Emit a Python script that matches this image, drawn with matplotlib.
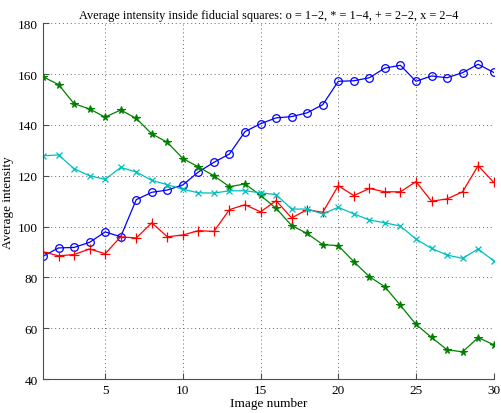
import numpy as np
import matplotlib
matplotlib.use("Agg")
import matplotlib.pyplot as plt

plt.rcParams['font.family'] = ['Liberation Serif', 'DejaVu Serif']

# image index 1..30
images = np.arange(1, 31)

# o = 1-2
s12 = [88.3, 91.6, 91.8, 93.8, 97.9, 96.0, 110.6, 113.5, 114.4, 116.4,
       121.5, 125.3, 128.6, 137.4, 140.5, 142.8, 143.3, 144.8, 148.0, 157.2,
       157.4, 158.6, 162.4, 163.5, 157.2, 159.3, 158.6, 160.6, 163.9, 160.7]
# * = 1-4
s14 = [159.0, 155.9, 148.4, 146.3, 143.1, 145.9, 142.6, 136.5, 133.2, 126.8,
       123.5, 120.0, 115.7, 116.8, 112.3, 107.2, 100.4, 97.3, 92.9, 92.5,
       86.2, 80.3, 76.3, 69.0, 61.5, 56.4, 51.5, 50.7, 56.3, 53.5]
# + = 2-2
s22 = [90.1, 88.5, 89.0, 91.2, 89.3, 96.0, 95.5, 101.5, 96.0, 96.7,
       98.4, 98.1, 106.7, 108.6, 105.8, 110.2, 103.4, 106.7, 105.6, 116.1,
       112.2, 115.0, 113.7, 113.7, 117.7, 110.0, 110.9, 113.7, 124.0, 117.4]
# x = 2-4
s24 = [127.9, 128.2, 122.8, 120.0, 118.6, 123.3, 121.5, 118.2, 116.5, 114.7,
       113.3, 113.2, 114.1, 114.1, 113.3, 112.6, 106.9, 106.9, 105.0, 107.6,
       105.0, 102.6, 101.5, 100.2, 95.1, 91.4, 88.8, 87.5, 91.2, 86.5]

fig = plt.figure(figsize=(5.01, 4.14), dpi=100)
ax = fig.add_axes([0.0858, 0.0821, 0.8996, 0.859])

lw = 0.9
ax.plot(images, s12, '-o', color=(0, 0, 1), lw=lw, ms=5.5, mfc='none', mew=0.9)
ax.plot(images, s14, '-*', color=(0, 0.5, 0), lw=lw, ms=5.5, mew=0.8)
ax.plot(images, s22, '-+', color=(1, 0, 0), lw=lw, ms=6.5, mew=0.9)
ax.plot(images, s24, '-x', color=(0, 0.75, 0.75), lw=lw, ms=4.5, mew=0.9)

ax.set_xlim(1, 30)
ax.set_ylim(40, 180)
ax.set_xticks([5, 10, 15, 20, 25, 30])
ax.set_yticks(np.arange(40, 181, 20))
ax.grid(True, linestyle=(0, (1, 3)), color='0.4', lw=0.7)
ax.spines['top'].set_visible(False)
ax.spines['right'].set_visible(False)
ax.spines['left'].set_color('0.3')
ax.spines['bottom'].set_color('0.3')
ax.tick_params(direction='in', length=4, labelsize=9.5, color='0.3')

ax.set_xlabel('Image number', fontsize=9.5, labelpad=1)
ax.set_ylabel('Average intensity', fontsize=9.5, labelpad=3)
ax.set_title('Average intensity inside fiducial squares: o = 1\u22122, * = 1\u22124, + = 2\u22122, x = 2\u22124',
             fontsize=8.8, pad=4)

fig.savefig('out.png', dpi=100)
